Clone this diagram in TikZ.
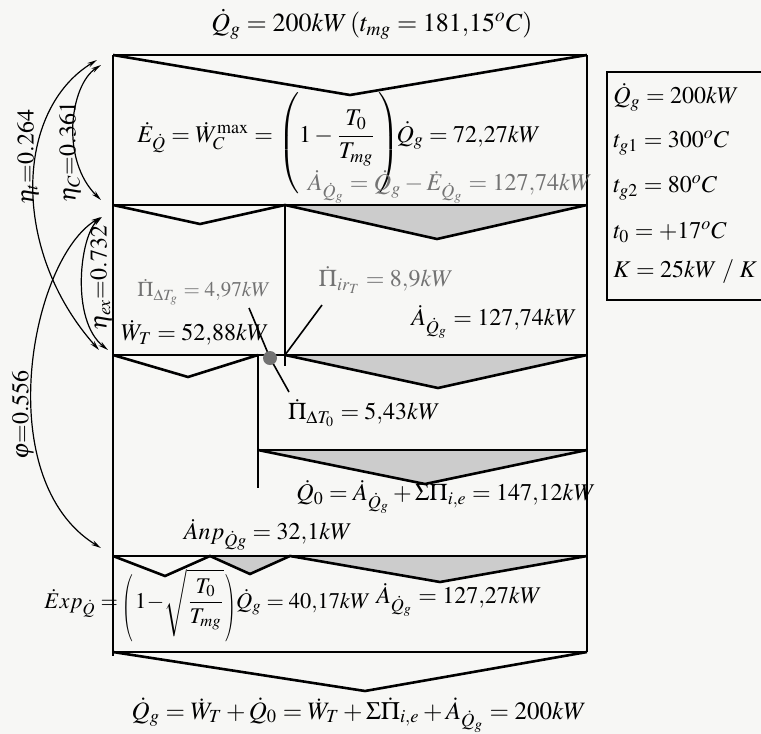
\documentclass[tikz,border=0pt]{standalone}
\usepackage{amsmath,amssymb}
\usepackage{mathptmx}
\usepackage{graphicx}
\usepackage{tikz}
\usetikzlibrary{arrows.meta}
\usepackage{xcolor}
\definecolor{scanpaper}{rgb}{0.97,0.97,0.96}
\definecolor{lossgray}{rgb}{0.80,0.80,0.80}
\definecolor{fadeink}{rgb}{0.45,0.45,0.45}
\definecolor{dotgray}{rgb}{0.45,0.45,0.45}

\begin{document}
\begin{tikzpicture}[x=0.5pt,y=-0.5pt,font=\fontsize{12}{14}\selectfont,
  every node/.style={inner sep=1pt},
  band/.style={line width=1.3pt},
  wedge/.style={fill=lossgray},
  faded/.style={text=fadeink},
  effarc/.style={line width=0.6pt,{Stealth[length=5pt,width=2.4pt]}-{Stealth[length=5pt,width=2.4pt]}}]
  \fill[scanpaper] (0,0) rectangle (761,734);
  \useasboundingbox (0,0) rectangle (761,734);
  \coordinate(t0)at(113,55);\coordinate(t1)at(587,55);\coordinate(e0)at(113,205);\coordinate(e1)at(587,205);
  \coordinate(w0)at(113,355);\coordinate(w1)at(587,355);\coordinate(q0)at(258,450);\coordinate(q1)at(587,450);
  \coordinate(x0)at(113,556);\coordinate(x1)at(587,556);\coordinate(b0)at(113,652);\coordinate(b1)at(587,652);
  \coordinate(em)at(285,205);\coordinate(wm)at(285,355);\coordinate(wl)at(258,355);\coordinate(qb)at(258,488);
  \coordinate(xa)at(210,556);\coordinate(xb)at(290,556);
  % loss wedges
  \fill[wedge] (em)--(437,239)--(e1)--cycle;
  \fill[wedge] (wm)--(438,388)--(w1)--cycle;
  \fill[wedge] (q0)--(425,484)--(q1)--cycle;
  \fill[wedge] (xa)--(250,574)--(xb)--(440,582)--(x1)--cycle;
  % notches and bands
  \draw[band] (t0)--(350,95)--(t1) (e0)--(200,224)--(em)--(437,239)--(e1)
    (w0)--(188,377)--(wl) (wm)--(438,388)--(w1) (q0)--(425,484)--(q1)
    (x0)--(165,576)--(xa)--(250,574)--(xb)--(440,582)--(x1) (b0)--(365,691)--(b1);
  \draw[band] (t0)--(t1) (e0)--(e1) (w0)--(w1) (q0)--(q1) (x0)--(x1) (b0)--(b1);
  \draw[line width=1.4pt] (t0)--(113,656) (t1)--(b1);
  \draw[line width=0.8pt] (em)--(285,366) (wl)--(qb);
  % mixing point
  \coordinate(dot)at(270,358);\coordinate(lg)at(249,308);\coordinate(lr)at(322,305);\coordinate(l0)at(289,392);
  \draw[line width=0.8pt] (lg)--(dot) (wm)--(lr) (dot)--(l0);
  \fill[dotgray] (dot) circle (7);
  % efficiency arcs
  \coordinate(h1)at(97,60);\coordinate(h2)at(99,350);\coordinate(c1)at(101,65);\coordinate(c2)at(101,200);
  \coordinate(k1)at(102,217);\coordinate(k2)at(108,350);\coordinate(f1)at(101,217);\coordinate(f2)at(101,548);
  \draw[effarc] (h1) .. controls (15,110) and (10,250) .. (h2);
  \draw[effarc] (c1) .. controls (70,85) and (60,160) .. (c2);
  \draw[effarc] (k1) .. controls (80,235) and (70,320) .. (k2);
  \draw[effarc] (f1) .. controls (30,260) and (-10,480) .. (f2);
  \node[rotate=90] (rt) at (28,157) {$\eta_t{=}0.264$};
  \node[rotate=90] (rc) at (70,152) {$\eta_C{=}0.361$};
  \node[rotate=90] (rx) at (101,278) {$\eta_{ex}{=}0.732$};
  \node[rotate=90] (rf) at (23,415) {$\varphi{=}0.556$};
  % data box
  \draw[line width=0.8pt] (761,72) -| (607,300) -- (761,300);
  \node[anchor=west] (iq) at (611,97) {$\dot Q_g = 200kW$};
  \node[anchor=west] (ig1) at (611,143) {$t_{g1} = 300^oC$};
  \node[anchor=west] (ig2) at (611,188) {$t_{g2} = 80^oC$};
  \node[anchor=west] (it0) at (611,232) {$t_0 = +17^oC$};
  \node[anchor=west] (ik) at (611,272) {$K = 25kW\;/\;K$};
  % flows
  \node[font=\fontsize{13}{15}\selectfont] (tq) at (372,24) {$\dot Q_g = 200kW\,(t_{mg} = 181{,}15^oC)$};
  \node[anchor=base west] (te) at (135,142) {$\dot E_{\dot Q} = \dot W_C^{\max} = \raisebox{-3.5pt}{$\left(\rule[-24pt]{0pt}{48pt}\right.$}\!1-\dfrac{T_0}{T_{mg}}\raisebox{-3.5pt}{$\left.\rule[-24pt]{0pt}{48pt}\right)$}\!\dot Q_g = 72{,}27kW$};
  \node[faded] (ta) at (450,187) {$\dot A_{\dot Q_g} = \dot Q_g - \dot E_{\dot Q_g} = 127{,}74kW$};
  \node[faded,font=\fontsize{10.5}{12}\selectfont] (pg) at (204,292) {$\dot\Pi_{\Delta T_g} = 4{,}97kW$};
  \node[faded] (pir) at (386,280) {$\dot\Pi_{ir_T} = 8{,}9kW$};
  \node (tw) at (195,333) {$\dot W_T = 52{,}88kW$};
  \node (taq) at (494,322) {$\dot A_{\dot Q_g} = 127{,}74kW$};
  \node (pt0) at (364,413) {$\dot\Pi_{\Delta T_0} = 5{,}43kW$};
  \node (tq0) at (446,497) {$\dot Q_0 = \dot A_{\dot Q_g} + \Sigma\dot\Pi_{i,e} = 147{,}12kW$};
  \node (tan) at (268,535) {$\dot Anp_{\dot Q g} = 32{,}1kW$};
  \node[anchor=west,font=\fontsize{11.2}{13}\selectfont] (tex) at (42,606) {$\dot Exp_{\dot Q} = \raisebox{-3pt}{\scalebox{0.6}[1]{$\left(\vphantom{\sqrt{\dfrac{T_0}{T_{mg}}}}\right.$}}1\!-\!\sqrt{\dfrac{T_0}{T_{mg}}}\raisebox{-3pt}{\scalebox{0.6}[1]{$\left.\vphantom{\sqrt{\dfrac{T_0}{T_{mg}}}}\right)$}}\dot Q_g = 40{,}17kW$};
  \node (tas) at (459,600) {$\dot A_{\dot Q_g} = 127{,}27kW$};
  \node[font=\fontsize{12.5}{15}\selectfont] (tsum) at (359,715) {$\dot Q_g = \dot W_T + \dot Q_0 = \dot W_T + \Sigma\dot\Pi_{i,e} + \dot A_{\dot Q_g} = 200kW$};
\end{tikzpicture}
\end{document}
